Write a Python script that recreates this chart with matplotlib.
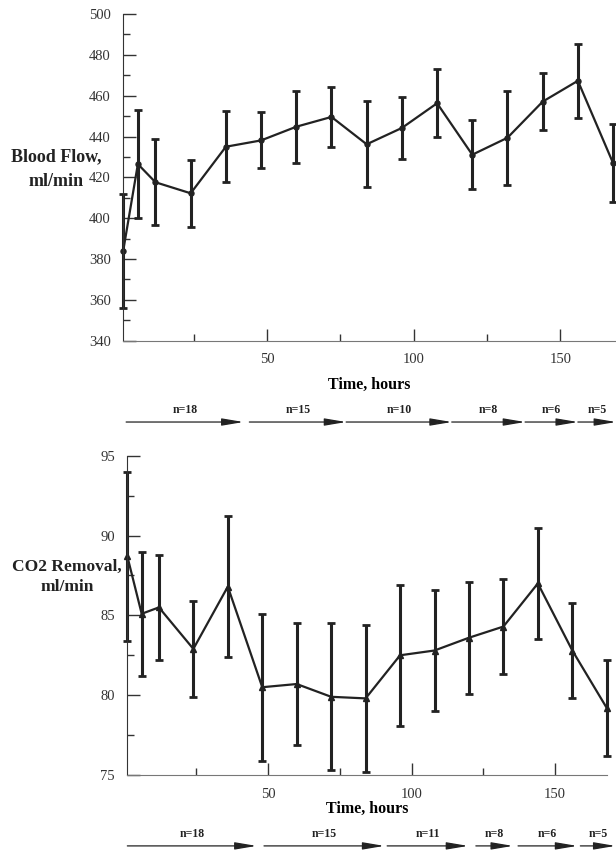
import matplotlib
matplotlib.use("Agg")
import matplotlib.pyplot as plt
from matplotlib.ticker import MultipleLocator

plt.rcParams['font.family'] = ['Liberation Serif', 'DejaVu Serif']

# time points, hours
hours = [1, 6, 12, 24, 36, 48, 60, 72, 84, 96, 108, 120, 132, 144, 156, 168]

# blood flow, ml/min (mean and error)
flow = [384, 426.5, 417.6, 412.2, 435, 438.1, 444.8, 449.6, 436.2, 444.2, 456.3, 431.1, 439.4, 457.1, 467.3, 427]
flow_err = [28, 26.5, 21, 16.5, 17.3, 13.7, 17.6, 14.8, 21, 15.3, 16.7, 16.8, 23, 14, 18, 19]

# CO2 removal, ml/min
co2 = [88.7, 85.1, 85.5, 82.9, 86.8, 80.5, 80.7, 79.9, 79.8, 82.5, 82.8, 83.6, 84.3, 87.0, 82.8, 79.2]
co2_err = [5.3, 3.9, 3.3, 3.0, 4.4, 4.6, 3.8, 4.6, 4.6, 4.4, 3.8, 3.5, 3.0, 3.5, 3.0, 3.0]

# sample size ranges (hours) shown under each panel
n_top_start = [2, 44, 77, 113, 138, 156]
n_top_end = [42, 77, 113, 138, 156, 169]
n_top_lab = ['n=18', 'n=15', 'n=10', 'n=8', 'n=6', 'n=5']
n_bot_start = [1, 48.6, 91.5, 122.4, 137.1, 158.8]
n_bot_end = [46, 90.5, 119.7, 135.3, 157.7, 171]
n_bot_lab = ['n=18', 'n=15', 'n=11', 'n=8', 'n=6', 'n=5']

col = '#222222'

fig = plt.figure(figsize=(6.16, 8.56), dpi=100)
ax1 = fig.add_axes([0.200, 0.602, 0.800, 0.3816])
ax2 = fig.add_axes([0.2067, 0.0946, 0.7783, 0.373])


def style(ax, pad):
    ax.spines['top'].set_visible(False)
    ax.spines['right'].set_visible(False)
    ax.spines['left'].set_color('#333333')
    ax.spines['bottom'].set_color('#777777')
    ax.tick_params(which='both', direction='in', labelsize=10.5, colors='#333333')
    ax.tick_params(which='major', length=9, width=1, pad=9)
    ax.tick_params(which='minor', length=5, width=1)
    ax.xaxis.set_major_locator(MultipleLocator(50))
    ax.xaxis.set_minor_locator(MultipleLocator(25))
    ax.set_xlabel('Time, hours', fontsize=11.5, fontweight='bold', labelpad=pad)


def arrows(ax, starts, ends, labels, y_arrow, y_text):
    tr = ax.get_xaxis_transform()
    for s, e, lab in zip(starts, ends, labels):
        ax.annotate('', xy=(e, y_arrow), xytext=(s, y_arrow), xycoords=tr,
                    textcoords=tr, annotation_clip=False,
                    arrowprops=dict(arrowstyle='-|>,head_length=1.3,head_width=0.22',
                                    color=col, lw=0.9, shrinkA=0, shrinkB=0))
        ax.text((s + e) / 2, y_text, lab, transform=tr, ha='center', va='bottom',
                fontsize=8.5, fontweight='bold', color=col, clip_on=False)


def side_label(lines, x, ys, size):
    for txt, y in zip(lines, ys):
        fig.text(x / 616, 1 - y / 856, txt, ha='center', va='center',
                 fontsize=size, fontweight='bold', color=col)


# top panel
ax1.errorbar(hours, flow, yerr=flow_err, color=col, lw=1.6, elinewidth=2.2,
             capsize=3, capthick=2, marker='o', markersize=3.6, clip_on=False)
ax1.set_xlim(1, 169)
ax1.set_ylim(340, 500)
ax1.yaxis.set_major_locator(MultipleLocator(20))
ax1.yaxis.set_minor_locator(MultipleLocator(10))
style(ax1, 8)
arrows(ax1, n_top_start, n_top_end, n_top_lab, -0.249, -0.232)

# bottom panel
ax2.errorbar(hours, co2, yerr=co2_err, color=col, lw=1.6, elinewidth=2.2,
             capsize=3, capthick=2, marker='^', markersize=3.8, clip_on=False)
ax2.set_xlim(1, 168)
ax2.set_ylim(75, 95)
ax2.yaxis.set_major_locator(MultipleLocator(5))
ax2.yaxis.set_minor_locator(MultipleLocator(2.5))
style(ax2, 0.5)
arrows(ax2, n_bot_start, n_bot_end, n_bot_lab, -0.222, -0.205)

side_label(['Blood Flow,', 'ml/min'], 56, [157, 181], 13)
side_label(['CO2 Removal,', 'ml/min'], 67, [567, 587], 12.5)

fig.savefig('out.png', dpi=100)
